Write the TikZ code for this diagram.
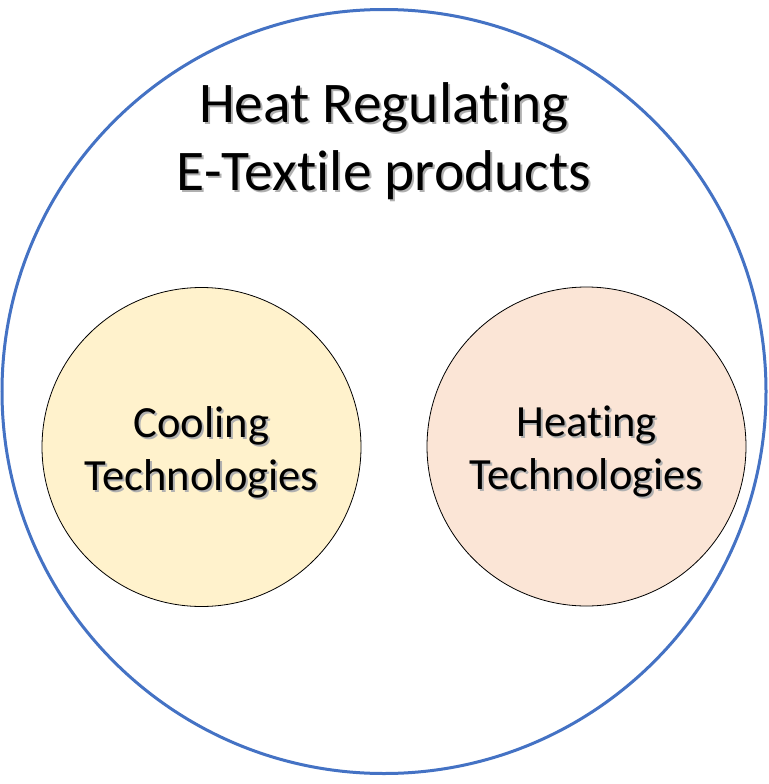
\documentclass[tikz,border=0pt]{standalone}
\usepackage{fontspec}
\setmainfont{Carlito}[Ligatures=NoCommon]
\definecolor{outerblue}{HTML}{4472C4}
\definecolor{coolfill}{HTML}{FFF2CC}
\definecolor{heatfill}{HTML}{FBE5D6}
\definecolor{shadowgray}{HTML}{B0B0B0}
\newcommand\shadowed[1]{\makebox[0pt][l]{\kern2pt\raisebox{-2pt}{\textcolor{shadowgray}{#1}}}#1}
\begin{document}
\begin{tikzpicture}[x=1pt,y=-1pt,
  outer/.style={circle,draw=outerblue,line width=3pt,minimum size=764pt,inner sep=0pt},
  inner/.style={circle,draw=black,line width=0.8pt,minimum size=319pt,inner sep=0pt},
  titletext/.style={align=center,font=\fontsize{57.5}{68}\selectfont,inner sep=0pt},
  labeltext/.style={align=center,font=\fontsize{44.6}{53}\selectfont,inner sep=0pt}]
\fill[white] (0,0) rectangle (768,784);
\useasboundingbox (0,0) rectangle (768,784);
\node[outer] (all) at (384,391.5) {};
\node[inner,fill=coolfill] (cool) at (201.5,447) {};
\node[inner,fill=heatfill] (heat) at (586.5,446.5) {};
\node[titletext] (title) at (384,142) {\shadowed{Heat Regulating}\\\shadowed{E-Textile products}};
\node[labeltext] (coollab) at ([shift={(0,6)}]cool.center) {\shadowed{Cooling}\\\shadowed{Technologies}};
\node[labeltext] (heatlab) at ([shift={(0,6)}]heat.center) {\shadowed{Heating}\\\shadowed{Technologies}};
\end{tikzpicture}
\end{document}
